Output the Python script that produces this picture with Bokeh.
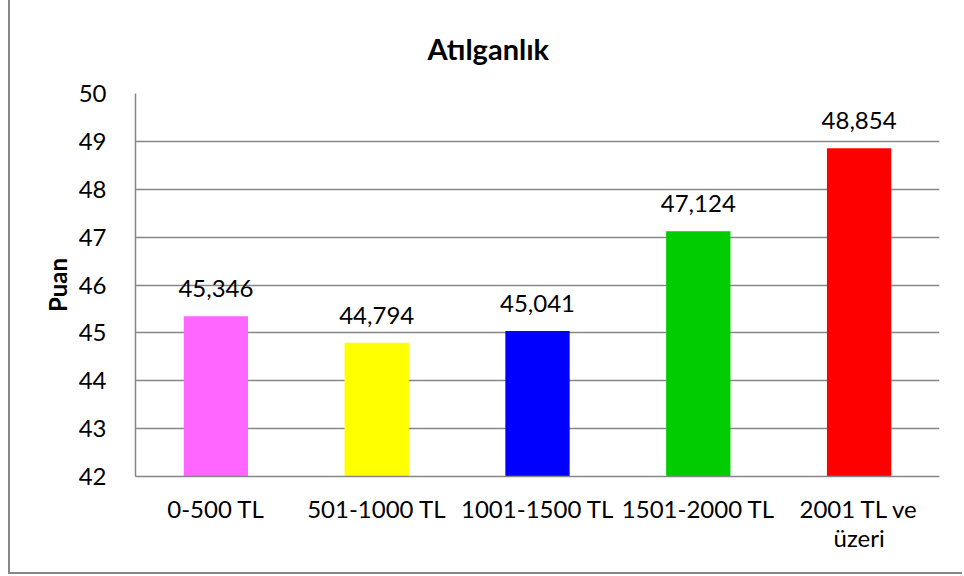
from bokeh.plotting import figure
from bokeh.models import ColumnDataSource, FactorRange, Range1d, LabelSet, FixedTicker
from bokeh.core.properties import value
from bokeh.embed import file_html
from bokeh.resources import INLINE

categories = ["0-500 TL", "501-1000 TL", "1001-1500 TL", "1501-2000 TL", "2001 TL ve\nüzeri"]
values = [45.346, 44.794, 45.041, 47.124, 48.854]
colors = ["#FF66FF", "#FFFF00", "#0000FF", "#00CC00", "#FF0000"]
y_ticks = [42, 43, 44, 45, 46, 47, 48, 49, 50]
title_text = "Atılganlık"
y_label = "Puan"

labels = [f"{v:.3f}".replace(".", ",") for v in values]
src = ColumnDataSource(dict(x=categories, top=values, color=colors, label=labels))

GRAY = "#868686"
FONT = "Lato"

p = figure(
    x_range=FactorRange(*categories, range_padding=0),
    y_range=Range1d(42, 50),
    width=954, height=574,
    output_backend="svg", toolbar_location=None,
    min_border_left=125, min_border_right=25, min_border_top=92, min_border_bottom=98,
)
p.styles = {"margin-left": "8px", "border-left": f"2px solid {GRAY}", "border-bottom": f"2px solid {GRAY}"}
p.outline_line_color = None

p.vbar(x="x", top="top", bottom=42, width=0.4, color="color", line_color=None, source=src)

p.add_layout(LabelSet(x="x", y="top", text="label", source=src, y_offset=19,
                      text_align="center", text_baseline="alphabetic",
                      text_font=value(FONT), text_font_size="24px", text_color="black"))

p.title.text = title_text
p.title.text_font = FONT
p.title.text_font_size = "29px"
p.title.text_font_style = "bold"
p.title.text_color = "black"
p.title.align = "left"
p.title.offset = 292
p.title.standoff = 56

p.yaxis.ticker = FixedTicker(ticks=y_ticks)
p.yaxis.axis_label = y_label
p.yaxis.axis_label_text_font = FONT
p.yaxis.axis_label_text_font_size = "24px"
p.yaxis.axis_label_text_font_style = "bold"
p.yaxis.axis_label_text_color = "black"
p.yaxis.axis_label_standoff = 4
p.yaxis.major_label_standoff = 29

for ax in (p.xaxis[0], p.yaxis[0]):
    ax.axis_line_color = GRAY
    ax.axis_line_width = 1.5
    ax.major_tick_line_color = None
    ax.minor_tick_line_color = None
    ax.major_tick_out = 0
    ax.major_tick_in = 0
    ax.major_label_text_font = FONT
    ax.major_label_text_font_size = "24px"
    ax.major_label_text_color = "black"

p.xaxis.major_label_standoff = 17
p.xaxis.major_label_text_line_height = 1.0

p.xgrid.grid_line_color = None
p.ygrid.grid_line_color = GRAY
p.ygrid.grid_line_width = 1.5

open("out.html", "w").write(file_html(p, INLINE))
